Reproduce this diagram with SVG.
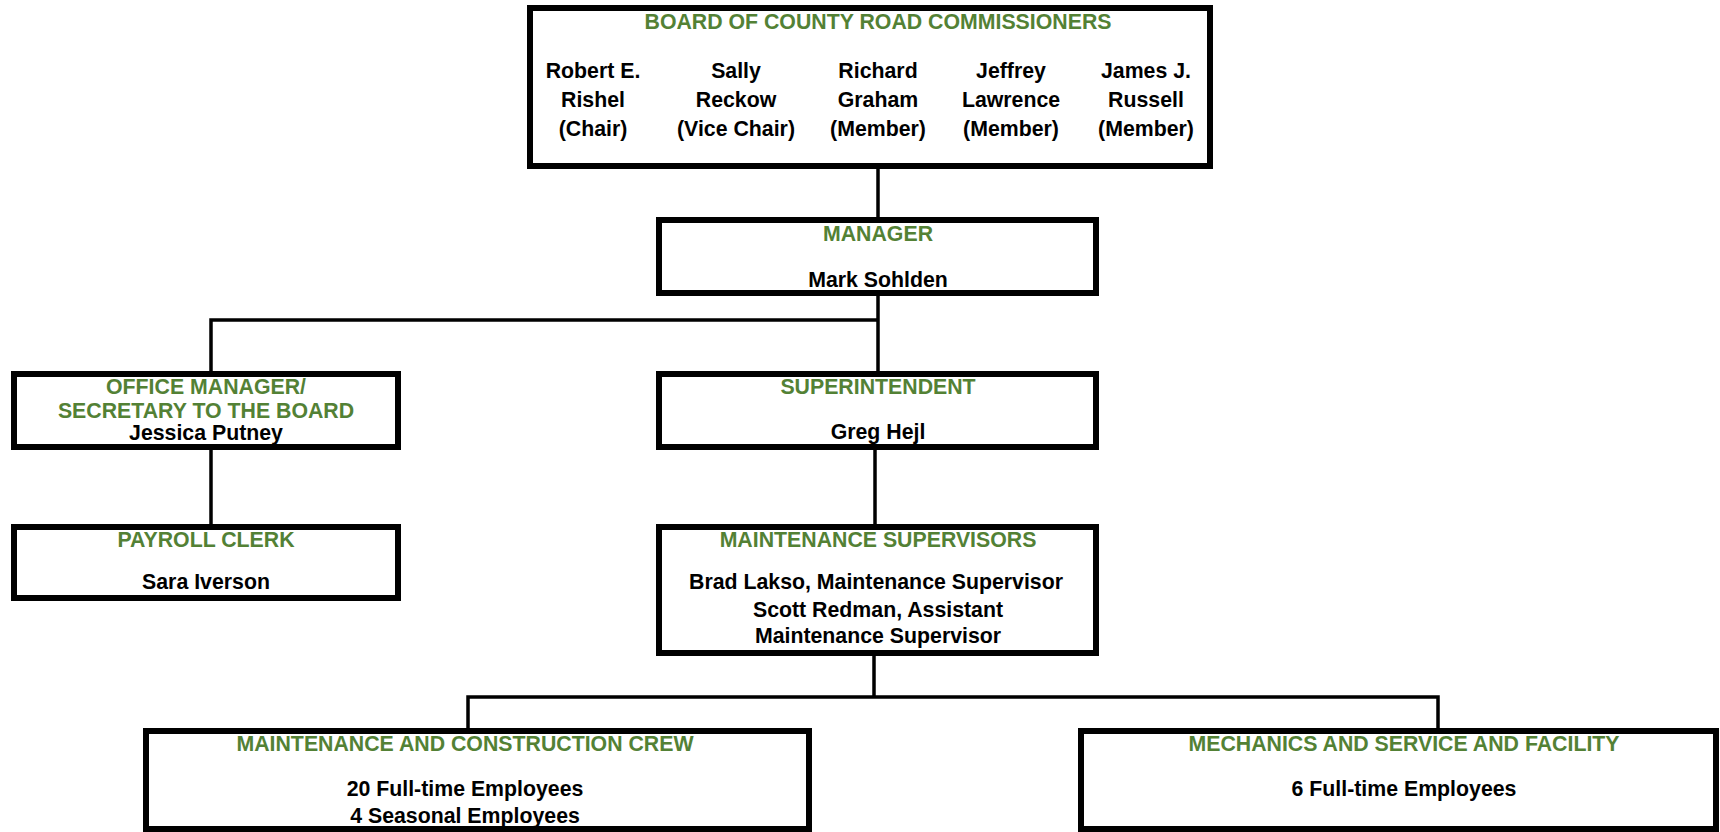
<svg xmlns="http://www.w3.org/2000/svg" width="1720" height="832" viewBox="0 0 1720 832">
<style>
.box{fill:#fff;stroke:#000;stroke-width:6}
.t{font-family:"Liberation Sans",Arial,sans-serif;font-weight:bold;font-size:21.3px;fill:#538135;text-anchor:middle}
.n{font-family:"Liberation Sans",Arial,sans-serif;font-weight:bold;font-size:21.3px;fill:#000;text-anchor:middle}
.c{fill:none;stroke:#000;stroke-width:3.5}
</style>
<rect width="1720" height="832" fill="#fff"/>
<g id="connectors">
<path class="c" d="M878 169V217"/>
<path class="c" d="M878 296V320M211 371V320H878V371"/>
<path class="c" d="M211 450V524"/>
<path class="c" d="M875 450V524"/>
<path class="c" d="M874 656V697M468 728V697H1438V728"/>
</g>
<g id="board">
<rect class="box" x="530" y="8" width="680" height="158"/>
<text class="t" x="878" y="29">BOARD OF COUNTY ROAD COMMISSIONERS</text>
<text class="n" x="593" y="78">Robert E.</text><text class="n" x="593" y="107">Rishel</text><text class="n" x="593" y="136">(Chair)</text>
<text class="n" x="736" y="78">Sally</text><text class="n" x="736" y="107">Reckow</text><text class="n" x="736" y="136">(Vice Chair)</text>
<text class="n" x="878" y="78">Richard</text><text class="n" x="878" y="107">Graham</text><text class="n" x="878" y="136">(Member)</text>
<text class="n" x="1011" y="78">Jeffrey</text><text class="n" x="1011" y="107">Lawrence</text><text class="n" x="1011" y="136">(Member)</text>
<text class="n" x="1146" y="78">James J.</text><text class="n" x="1146" y="107">Russell</text><text class="n" x="1146" y="136">(Member)</text>
</g>
<g id="manager">
<rect class="box" x="659" y="220" width="437" height="73"/>
<text class="t" x="878" y="241">MANAGER</text>
<text class="n" x="878" y="287">Mark Sohlden</text>
</g>
<g id="office">
<rect class="box" x="14" y="374" width="384" height="73"/>
<text class="t" x="206" y="394">OFFICE MANAGER/</text>
<text class="t" x="206" y="418">SECRETARY TO THE BOARD</text>
<text class="n" x="206" y="440">Jessica Putney</text>
</g>
<g id="payroll">
<rect class="box" x="14" y="527" width="384" height="71"/>
<text class="t" x="206" y="547">PAYROLL CLERK</text>
<text class="n" x="206" y="589">Sara Iverson</text>
</g>
<g id="superintendent">
<rect class="box" x="659" y="374" width="437" height="73"/>
<text class="t" x="878" y="394">SUPERINTENDENT</text>
<text class="n" x="878" y="439">Greg Hejl</text>
</g>
<g id="supervisors">
<rect class="box" x="659" y="527" width="437" height="126"/>
<text class="t" x="878" y="547">MAINTENANCE SUPERVISORS</text>
<text class="n" x="876" y="589">Brad Lakso, Maintenance Supervisor</text>
<text class="n" x="878" y="617">Scott Redman, Assistant</text>
<text class="n" x="878" y="643">Maintenance Supervisor</text>
</g>
<g id="crew">
<rect class="box" x="146" y="731" width="663" height="98"/>
<text class="t" x="465" y="751">MAINTENANCE AND CONSTRUCTION CREW</text>
<text class="n" x="465" y="796">20 Full-time Employees</text>
<text class="n" x="465" y="823">4 Seasonal Employees</text>
</g>
<g id="mechanics">
<rect class="box" x="1081" y="731" width="635" height="98"/>
<text class="t" x="1404" y="751">MECHANICS AND SERVICE AND FACILITY</text>
<text class="n" x="1404" y="796">6 Full-time Employees</text>
</g>
</svg>
